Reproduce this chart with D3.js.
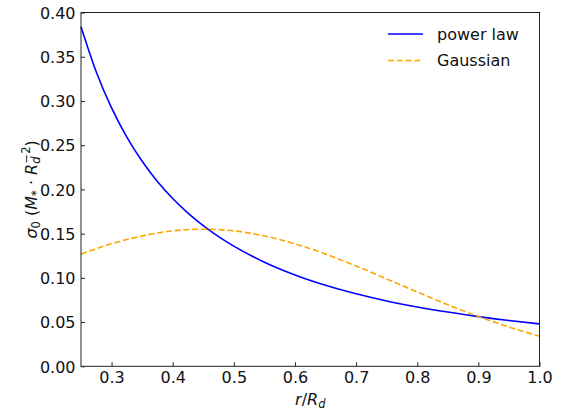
<!DOCTYPE html>
<html><head><meta charset="utf-8">
<script src="https://cdn.jsdelivr.net/npm/d3@7"></script>
<style>body{margin:0;background:#fff}svg{display:block}text{font-family:"DejaVu Sans",sans-serif}</style>
</head><body>
<svg id="c" width="573" height="412"></svg>
<script>
const powerR = [0.25,0.275,0.30,0.325,0.35,0.375,0.40,0.425,0.45,0.475,0.50,0.55,0.60,0.65,0.70,0.75,0.80,0.85,0.90,0.95,1.00];
const powerV = [0.384,0.3328,0.2921,0.2591,0.2318,0.2090,0.1897,0.1732,0.1590,0.1466,0.1358,0.1177,0.1033,0.0916,0.0820,0.0739,0.0671,0.0613,0.0562,0.0518,0.0480];
const gaussR = [0.25,0.30,0.35,0.40,0.45,0.50,0.55,0.60,0.65,0.70,0.75,0.80,0.85,0.90,0.95,1.00];
const gaussV = [0.1269,0.1385,0.1474,0.1531,0.155,0.1531,0.1474,0.1385,0.1269,0.1134,0.0988,0.0840,0.0696,0.0563,0.0444,0.034];
const xTicks = [0.3,0.4,0.5,0.6,0.7,0.8,0.9,1.0];
const yTicks = [0,0.05,0.10,0.15,0.20,0.25,0.30,0.35,0.40];
const seriesNames = ["power law","Gaussian"];

const L=81, R=539.5, T=12.5, B=366.3;
const FS=16;
const svg=d3.select("#c");
const x=d3.scaleLinear().domain([0.25,1.0]).range([L,R]);
const y=d3.scaleLinear().domain([0,0.40]).range([B,T]);

const line=d3.line().x(d=>x(d[0])).y(d=>y(d[1])).curve(d3.curveMonotoneX);
const g=svg.append("g");
g.append("path").datum(powerR.map((r,i)=>[r,powerV[i]])).attr("d",line)
 .attr("fill","none").attr("stroke","#0000ff").attr("stroke-width",1.6);
g.append("path").datum(gaussR.map((r,i)=>[r,gaussV[i]])).attr("d",line)
 .attr("fill","none").attr("stroke","#ffa500").attr("stroke-width",1.6).attr("stroke-dasharray","6,2.8");

// frame
svg.append("rect").attr("x",L).attr("y",T).attr("width",R-L).attr("height",B-T)
 .attr("fill","none").attr("stroke","#222").attr("stroke-width",1);

const xa=svg.append("g").attr("transform",`translate(0,${B})`)
 .call(d3.axisBottom(x).tickValues(xTicks).tickFormat(d3.format(".1f")).tickSizeInner(-4).tickSizeOuter(0).tickPadding(5));
const ya=svg.append("g").attr("transform",`translate(${L},0)`)
 .call(d3.axisLeft(y).tickValues(yTicks).tickFormat(d3.format(".2f")).tickSizeInner(-4).tickSizeOuter(0).tickPadding(5.5));
[xa,ya].forEach(a=>{a.select(".domain").remove();a.selectAll("line").attr("stroke","#222");
 a.selectAll("text").attr("font-size",FS).attr("fill","#111").attr("font-family","DejaVu Sans");});
ya.selectAll("text").attr("dy","0.36em");
xa.selectAll("text").attr("dy","0.76em");

// x label
const xl=svg.append("text").attr("x",(L+R)/2).attr("y",404.5).attr("text-anchor","middle").attr("font-size",FS).attr("fill","#111");
xl.append("tspan").attr("font-style","italic").text("r");
xl.append("tspan").text("/");
xl.append("tspan").attr("font-style","italic").text("R");
xl.append("tspan").attr("font-style","italic").attr("font-size",11.5).attr("dy",3.5).text("d");

// y label
const yl=svg.append("text").attr("transform",`translate(36.5,${(T+B)/2}) rotate(-90)`).attr("text-anchor","middle").attr("font-size",FS).attr("fill","#111");
yl.append("tspan").attr("font-style","italic").text("σ");
yl.append("tspan").attr("font-size",11.5).attr("dy",3.5).text("0");
yl.append("tspan").attr("dy",-3.5).text(" (");
yl.append("tspan").attr("font-style","italic").text("M");
yl.append("tspan").attr("font-size",11.5).attr("dy",3.5).text("*");
yl.append("tspan").attr("dy",-3.5).text(" · ");
yl.append("tspan").attr("font-style","italic").text("R");
yl.append("tspan").attr("font-style","italic").attr("font-size",11.5).attr("dy",3.5).text("d");
yl.append("tspan").attr("font-size",11.5).attr("dy",-10).attr("dx",-7).text("−2");
yl.append("tspan").attr("dy",6.5).text(")");

// legend
const lg=svg.append("g");
const colors=["#0000ff","#ffa500"], dashes=[null,"6,2.8"];
seriesNames.forEach((n,i)=>{
  const yy=34+i*26.5;
  lg.append("line").attr("x1",388).attr("x2",423).attr("y1",yy).attr("y2",yy)
   .attr("stroke",colors[i]).attr("stroke-width",1.6).attr("stroke-dasharray",dashes[i]);
  lg.append("text").attr("x",437).attr("y",yy).attr("dy","0.36em").attr("font-size",FS).attr("fill","#111").text(n);
});
</script>
</body></html>
